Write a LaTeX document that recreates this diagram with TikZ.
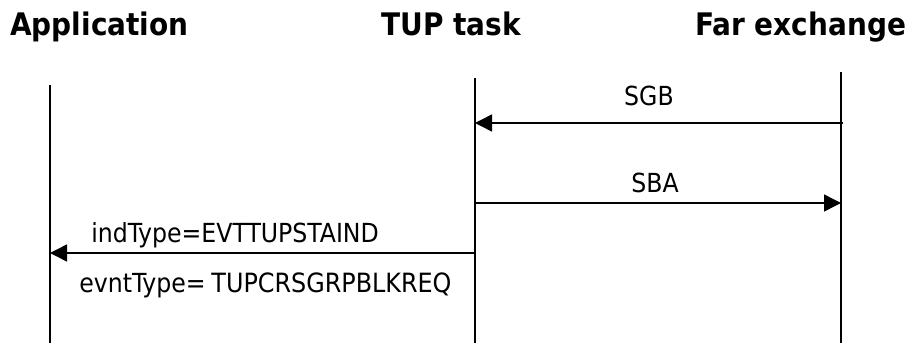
\documentclass[tikz,border=0pt]{standalone}
\usepackage{fontspec}
\setmainfont{DejaVu Sans Condensed}
\usetikzlibrary{arrows.meta}
\begin{document}
\begin{tikzpicture}[x=0.75pt,y=-0.75pt,
  title/.style={font=\fontsize{23.3pt}{26pt}\selectfont\bfseries, inner sep=0pt, anchor=base west},
  msg/.style={font=\fontsize{19.7pt}{22pt}\selectfont, inner sep=0pt},
  life/.style={line width=1.1pt},
  arr/.style={line width=1.1pt, -{Triangle[length=12.75pt,width=12.75pt]}}]
\useasboundingbox (0,0) rectangle (908,343);
% titles
\node[title] (tApp) at (10,35) {Application};
\node[title] (tTup) at (381,35) {TUP task};
\node[title] (tFar) at (695,35) {Far exchange};
% lifelines
\coordinate (appTop) at (50,85);
\coordinate (appBot) at (50,343);
\coordinate (tupTop) at (475,78);
\coordinate (tupBot) at (475,343);
\coordinate (farTop) at (841,72);
\coordinate (farBot) at (841,343);
\draw[life] (appTop) -- (appBot);
\draw[life] (tupTop) -- (tupBot);
\draw[life] (farTop) -- (farBot);
% message end points
\coordinate (sgbA) at (843,123);
\coordinate (sgbB) at (475,123);
\coordinate (sbaA) at (475,203);
\coordinate (sbaB) at (841,203);
\coordinate (indA) at (475,253);
\coordinate (indB) at (50,253);
\draw[arr] (sgbA) -- (sgbB);
\draw[arr] (sbaA) -- (sbaB);
\draw[arr] (indA) -- (indB);
% labels
\node[msg, anchor=base] (lSGB) at (649,105) {SGB};
\node[msg, anchor=base] (lSBA) at (655,192) {SBA};
\node[msg, anchor=base west] (lInd) at (91,242) {indType=EVTTUPSTAIND};
\node[msg, anchor=base west] (lEvt) at (79,292) {evntType=\hspace{0.22em}{\fontsize{19.9pt}{22pt}\selectfont TUPCRSGRPBLKREQ}};
\end{tikzpicture}
\end{document}
